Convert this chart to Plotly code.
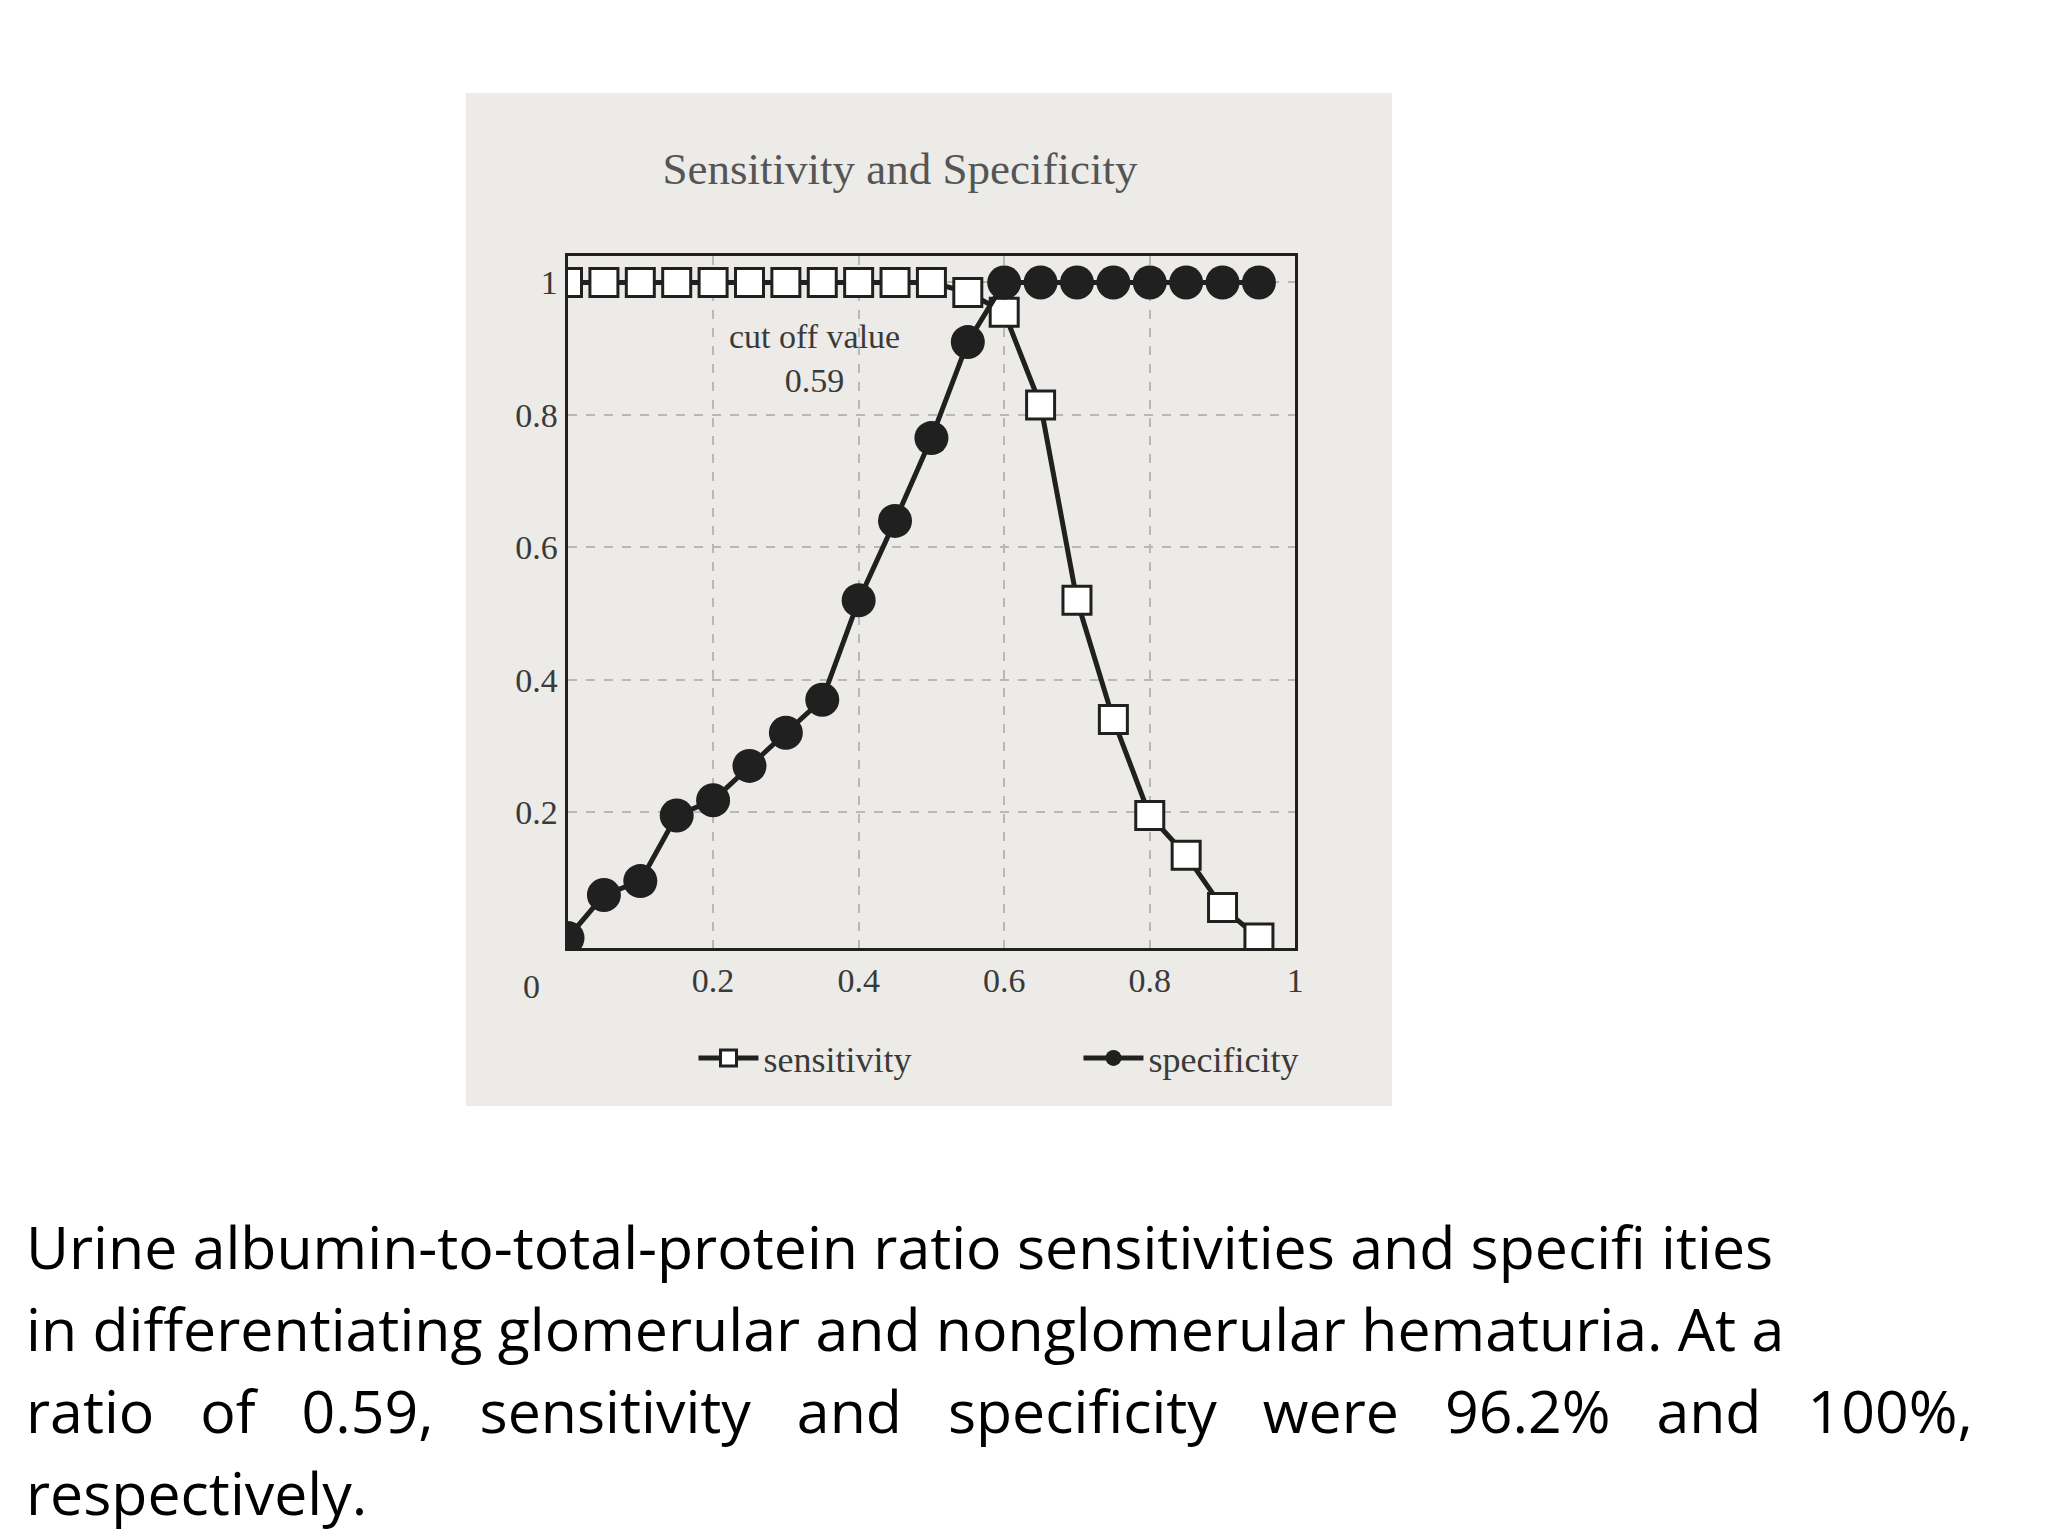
import plotly.graph_objects as go

x = [0.0, 0.05, 0.1, 0.15, 0.2, 0.25, 0.3, 0.35, 0.4, 0.45, 0.5, 0.55, 0.6, 0.65, 0.7, 0.75, 0.8, 0.85, 0.9, 0.95]
sensitivity = [1, 1, 1, 1, 1, 1, 1, 1, 1, 1, 1, 0.985, 0.955, 0.815, 0.52, 0.34, 0.195, 0.135, 0.056, 0.01]
specificity = [0.01, 0.075, 0.096, 0.195, 0.218, 0.27, 0.32, 0.37, 0.52, 0.64, 0.765, 0.91, 1, 1, 1, 1, 1, 1, 1, 1]
xticks = [0.2, 0.4, 0.6, 0.8, 1]
yticks = [0.2, 0.4, 0.6, 0.8, 1]
caption = ["Urine albumin-to-total-protein ratio sensitivities and specifi ities",
           "in differentiating glomerular and nonglomerular hematuria. At a",
           "ratio   of   0.59,   sensitivity   and   specificity   were   96.2%   and   100%,",
           "respectively."]

serif = "Liberation Serif, DejaVu Serif, serif"
ink = "#202020"
fig = go.Figure()
fig.add_trace(go.Scatter(x=x, y=sensitivity, name="sensitivity", mode="lines+markers",
                         line=dict(color=ink, width=5),
                         marker=dict(symbol="square", size=28, color="white", line=dict(color=ink, width=3))))
fig.add_trace(go.Scatter(x=x, y=specificity, name="specificity", mode="lines+markers",
                         line=dict(color=ink, width=5),
                         marker=dict(symbol="circle", size=34, color=ink)))

fig.add_shape(type="rect", xref="paper", yref="paper", x0=460/2048, x1=1390/2048,
              y0=1-1098/1536, y1=1-85/1536, fillcolor="#ecebe8", line=dict(width=0), layer="below")

ax = dict(showline=True, mirror=True, linecolor=ink, linewidth=3, ticks="",
          showgrid=True, gridcolor="#b8b8b8", griddash="dash", gridwidth=2, zeroline=False,
          tickfont=dict(family=serif, size=34, color="#3a3a3a"))
fig.update_layout(
    width=2048, height=1536, paper_bgcolor="white", plot_bgcolor="rgba(0,0,0,0)",
    margin=dict(l=0, r=0, t=0, b=0),
    xaxis=dict(ax, domain=[562/2048, 1293/2048], range=[0, 1], tickvals=xticks),
    yaxis=dict(ax, domain=[1-940/1536, 1-248/1536], range=[-0.005, 1.04], tickvals=yticks),
    showlegend=True,
    legend=dict(orientation="h", x=0.525, xanchor="center", y=1-1050/1536, yanchor="middle",
                font=dict(family=serif, size=36, color="#3a3a3a"), bgcolor="rgba(0,0,0,0)",
                itemwidth=60, entrywidthmode="pixels", entrywidth=310),
    title=dict(text="Sensitivity and Specificity", x=892/2048, xanchor="center", y=1-160/1536,
               yanchor="middle", font=dict(family=serif, size=45, color="#555")),
)
fig.add_annotation(x=0.34, y=0.885, xref="x", yref="y", text="cut off value<br>0.59", showarrow=False,
                   font=dict(family=serif, size=34, color="#3a3a3a"))
fig.add_annotation(x=515/2048, y=1-978/1536, xref="paper", yref="paper", text="0", showarrow=False,
                   font=dict(family=serif, size=34, color="#3a3a3a"))
for i, line in enumerate(caption):
    fig.add_annotation(x=16/2048, y=1-(1238+i*82)/1536, xref="paper", yref="paper", text=line,
                       showarrow=False, xanchor="left", yanchor="middle",
                       font=dict(family="Open Sans, Noto Sans, sans-serif", size=59, color="black"))
fig.write_html("out.html")
